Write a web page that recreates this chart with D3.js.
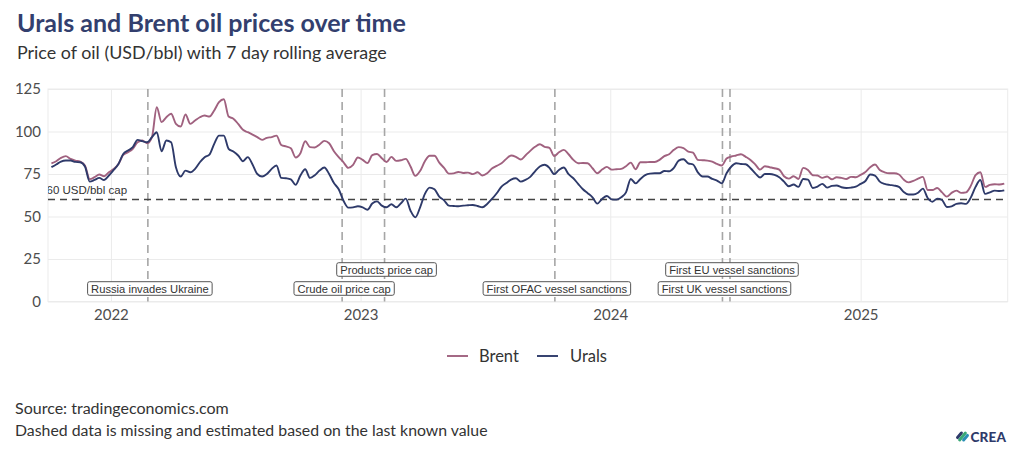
<!DOCTYPE html>
<html><head><meta charset="utf-8">
<script src="https://cdn.jsdelivr.net/npm/d3@7"></script>
<style>body{margin:0;background:#fff}svg{display:block}</style>
</head><body><svg id="c" width="1024" height="455"></svg>
<script>
// ---------------- data ----------------
const startDate = "2021-10-06";   // first weekly observation
const xDomain = ["2021-10-01", "2025-08-04"];
const brent = [
81.3,82.5,84.5,85.5,83.9,82.9,82.3,80.0,72.0,73.1,
74.7,73.7,76.0,78.0,80.9,86.2,87.8,89.8,93.7,94.7,
93.1,96.7,114.3,105.5,108.4,110.4,104.5,102.9,110.0,104.5,
106.5,108.4,109.4,108.8,112.4,117.3,119.0,108.8,107.5,104.5,
101.0,99.6,98.2,96.7,95.1,96.3,96.7,97.6,92.1,91.2,
90.2,84.7,87.2,94.3,90.8,90.6,92.3,94.5,93.1,88.4,
84.9,81.9,78.6,80.4,84.7,83.3,81.5,86.1,86.8,84.3,
82.1,85.1,82.7,83.1,83.9,79.4,73.9,76.8,82.5,85.7,
85.7,81.7,78.6,75.2,75.4,76.2,75.6,75.8,74.9,76.0,
74.1,75.4,78.2,79.8,81.3,83.9,85.9,85.1,83.5,85.9,
88.6,91.0,92.5,91.0,90.4,85.5,87.8,89.2,86.6,83.3,
81.3,81.5,81.3,78.4,75.4,77.6,79.2,77.6,77.8,78.0,
79.6,81.7,77.8,81.9,81.9,82.1,82.1,83.3,85.5,86.6,
89.2,90.8,90.2,88.2,87.6,83.3,83.1,82.9,82.3,80.9,
80.0,84.1,85.3,85.9,86.6,85.1,83.3,80.6,77.6,79.6,
79.0,78.4,77.6,73.7,72.3,73.7,72.1,78.6,77.4,74.3,
74.1,72.7,73.5,71.9,73.1,72.7,72.1,73.3,73.1,74.5,
76.2,79.0,80.6,77.4,76.0,75.4,75.4,74.7,71.7,70.1,
70.9,72.3,73.3,65.6,65.6,66.8,64.2,61.7,63.9,65.2,
63.9,64.2,68.0,74.3,76.0,67.4,68.6,69.0,68.8,69.3
];
const urals = [
79.0,80.6,82.3,82.9,82.9,82.1,81.9,79.4,70.5,71.5,
72.7,71.5,74.1,77.4,80.9,86.8,88.8,90.8,95.1,94.3,
93.7,96.7,99.6,88.4,94.7,93.7,79.0,73.5,77.0,76.0,
78.0,81.9,84.9,86.4,92.7,97.6,97.6,89.8,88.2,85.9,
82.5,84.9,80.6,75.0,73.5,75.0,78.0,80.0,72.7,72.5,
71.9,68.6,74.1,77.8,72.7,74.3,77.0,78.8,75.0,69.7,
66.0,59.3,55.2,55.4,56.0,55.4,54.0,57.6,58.9,56.4,
55.4,57.2,55.4,57.8,60.5,53.4,49.5,55.4,63.3,67.0,
66.0,61.7,59.5,56.4,56.2,56.0,56.4,56.6,56.8,56.2,
55.4,57.4,60.3,63.7,67.6,69.7,71.7,72.5,70.5,71.5,
73.3,76.6,79.4,80.4,78.6,74.9,77.4,78.8,74.9,72.5,
69.2,66.0,63.7,61.3,57.6,60.3,62.1,60.1,59.9,61.3,
64.2,72.1,69.5,72.1,74.3,75.2,75.4,75.4,76.8,76.6,
78.6,82.9,83.7,81.3,80.6,76.0,73.5,73.5,72.1,71.1,
69.5,75.4,79.4,81.3,80.9,80.7,78.4,75.4,72.9,75.0,
75.0,74.5,73.1,70.5,67.8,68.8,67.4,72.1,71.7,66.8,
67.6,69.2,67.0,68.0,68.2,67.2,66.8,67.0,67.6,69.2,
70.9,74.7,74.1,70.5,69.2,68.6,68.2,67.4,64.4,62.9,
62.9,64.0,66.4,60.9,58.7,60.5,59.7,55.6,56.0,57.4,
57.8,57.4,61.1,67.4,71.5,63.3,64.2,65.2,65.0,65.4
];
const eventDates  = ["2022-02-24","2022-12-05","2023-02-05","2023-10-12","2024-06-13","2024-06-24"];
const eventLabels = ["Russia invades Ukraine","Crude oil price cap","Products price cap","First OFAC vessel sanctions","First UK vessel sanctions","First EU vessel sanctions"];
const eventRows   = [0,0,1,0,0,1];   // 0 = lower row, 1 = upper row
const capValue = 60;
const capLabel = "60 USD/bbl cap";
const yTicks = [0,25,50,75,100,125];
const xTicks = ["2022-01-01","2023-01-01","2024-01-01","2025-01-01"];
const seriesNames = ["Brent","Urals"];
const seriesColors = ["#a0617f","#2e3a6a"];

// ---------------- chart ----------------
const svg = d3.select("#c");
const SANS = "Lato, 'Source Sans Pro', 'Noto Sans', sans-serif";
const ARIAL = "'Liberation Sans', Arial, sans-serif";
const P = {left:48, right:1007.7, top:89, bottom:301.5};
const parse = d3.utcParse("%Y-%m-%d");
const x = d3.scaleUtc().domain(xDomain.map(parse)).range([P.left, P.right]);
const y = d3.scaleLinear().domain([0,125]).range([P.bottom, P.top]);
const start = parse(startDate);
const dates = brent.map((_, i) => d3.utcDay.offset(start, 7*i));

function fit(sel, width){
  const n = sel.node(); const fs = parseFloat(sel.attr("font-size"));
  const w = n.getComputedTextLength();
  sel.attr("font-size", (fs*width/w).toFixed(2));
}

// title / subtitle
fit(svg.append("text").attr("x",17).attr("y",32).attr("font-family",SANS).attr("font-weight",700)
  .attr("font-size",23).attr("fill","#333f6e").text("Urals and Brent oil prices over time"), 389);
fit(svg.append("text").attr("x",17).attr("y",59).attr("font-family",SANS)
  .attr("font-size",17).attr("fill","#333").text("Price of oil (USD/bbl) with 7 day rolling average"), 370);

// gridlines
const g = svg.append("g");
g.append("g").attr("transform",`translate(${P.left},0)`)
  .call(d3.axisLeft(y).tickValues(yTicks).tickSize(-(P.right-P.left)).tickFormat(""))
  .call(s=>{s.select(".domain").remove(); s.selectAll("line").attr("stroke","#ebebeb").attr("stroke-width",1);});
g.append("g").attr("transform",`translate(0,${P.bottom})`)
  .call(d3.axisBottom(x).tickValues(xTicks.map(parse)).tickSize(-(P.bottom-P.top)).tickFormat(""))
  .call(s=>{s.select(".domain").remove(); s.selectAll("line").attr("stroke","#ebebeb").attr("stroke-width",1);});
g.append("rect").attr("x",P.left).attr("y",P.top).attr("width",P.right-P.left).attr("height",P.bottom-P.top)
  .attr("fill","none").attr("stroke","#ebebeb").attr("stroke-width",1);

// axis labels
const ya = svg.append("g").attr("transform",`translate(41,0)`)
  .call(d3.axisLeft(y).tickValues(yTicks).tickSize(0).tickPadding(0));
ya.select(".domain").remove();
ya.selectAll("text").attr("font-family",SANS).attr("font-size",15).attr("fill","#4d4d4d");
const xa = svg.append("g").attr("transform",`translate(0,${P.bottom})`)
  .call(d3.axisBottom(x).tickValues(xTicks.map(parse)).tickFormat(d3.utcFormat("%Y")).tickSize(0).tickPadding(8));
xa.select(".domain").remove();
xa.selectAll("text").attr("font-family",SANS).attr("font-size",15).attr("fill","#4d4d4d");

// clip
svg.append("clipPath").attr("id","clip").append("rect")
  .attr("x",P.left).attr("y",P.top-2).attr("width",P.right-P.left).attr("height",P.bottom-P.top+2);

// event lines
svg.append("g").selectAll("line").data(eventDates).join("line")
  .attr("x1",d=>x(parse(d))).attr("x2",d=>x(parse(d)))
  .attr("y1",P.top).attr("y2",P.bottom)
  .attr("stroke","#a6a6a6").attr("stroke-width",1.6).attr("stroke-dasharray","8,5");

// cap line + label
svg.append("line").attr("x1",P.left).attr("x2",P.right).attr("y1",y(capValue)).attr("y2",y(capValue))
  .attr("stroke","#444").attr("stroke-width",1.5).attr("stroke-dasharray","7,5");
svg.append("text").attr("clip-path","url(#clip)").attr("x",46.5).attr("y",y(capValue)-6)
  .attr("font-family",ARIAL).attr("font-size",11.5).attr("fill","#333").text(capLabel);

// series lines
const line = d3.line().x((d,i)=>x(dates[i])).y(d=>y(d)).curve(d3.curveMonotoneX);
[brent, urals].forEach((s,k)=>{
  svg.append("path").datum(s).attr("d",line).attr("fill","none")
    .attr("stroke",seriesColors[k]).attr("stroke-width",1.9).attr("stroke-linejoin","round");
});

// event annotations
const rowY = [288.5, 269.5];
eventDates.forEach((d,i)=>{
  const cx = x(parse(d)) + 2, cy = rowY[eventRows[i]];
  const grp = svg.append("g");
  const t = grp.append("text").attr("x",cx).attr("y",cy+4).attr("text-anchor","middle")
    .attr("font-family",ARIAL).attr("font-size",11.2).attr("fill","#333").text(eventLabels[i]);
  const w = t.node().getComputedTextLength() + 7;
  grp.insert("rect","text").attr("x",cx-w/2).attr("y",cy-6.8).attr("width",w).attr("height",13.6)
    .attr("rx",2).attr("fill","#fff").attr("stroke","#555").attr("stroke-width",1);
});

// legend
const lg = svg.append("g");
const legX = [[447,479],[537,570]];
seriesNames.forEach((n,k)=>{
  lg.append("line").attr("x1",legX[k][0]).attr("x2",legX[k][0]+21).attr("y1",356).attr("y2",356)
    .attr("stroke",seriesColors[k]).attr("stroke-width",1.9);
  lg.append("text").attr("x",legX[k][1]).attr("y",362).attr("font-family",SANS).attr("font-size",16.5)
    .attr("fill","#333").text(n);
});

// footer
fit(svg.append("text").attr("x",15).attr("y",414).attr("font-family",SANS).attr("font-size",17)
  .attr("fill","#333").text("Source: tradingeconomics.com"), 214);
fit(svg.append("text").attr("x",15).attr("y",435.5).attr("font-family",SANS).attr("font-size",17)
  .attr("fill","#333").text("Dashed data is missing and estimated based on the last known value"), 473);

// CREA logo
const logo = svg.append("g").attr("transform","translate(962.5,436.5) rotate(-50)");
logo.append("rect").attr("x",-5.5).attr("y",-4.6).attr("width",9).attr("height",3).attr("rx",1.5).attr("fill","#2e3a6a");
logo.append("rect").attr("x",-6).attr("y",-1.5).attr("width",12).attr("height",3).attr("rx",1.5).attr("fill","#3aa876");
logo.append("rect").attr("x",-3.5).attr("y",1.6).attr("width",9).attr("height",3).attr("rx",1.5).attr("fill","#2a8fb5");
svg.append("text").attr("x",970.5).attr("y",441.5).attr("font-family",SANS).attr("font-weight",900)
  .attr("font-size",13.5).attr("fill","#2e3a6a").attr("letter-spacing",0.2).text("CREA");
</script></body></html>
